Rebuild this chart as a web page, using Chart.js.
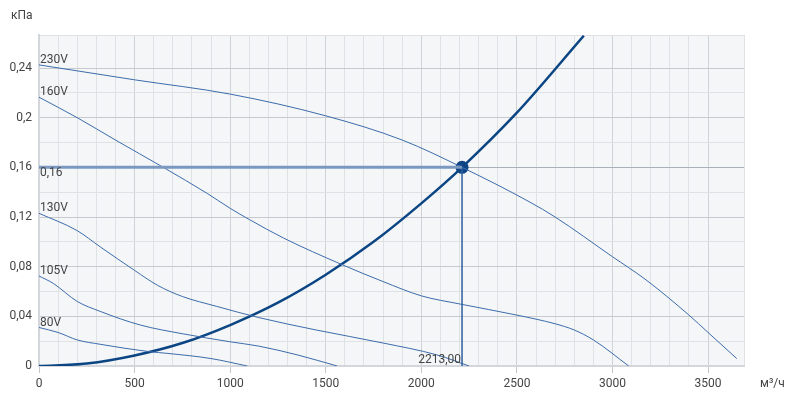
<!DOCTYPE html>
<html>
<head>
<meta charset="utf-8">
<script src="https://cdn.jsdelivr.net/npm/chart.js@4"></script>
<style>
  html, body { margin: 0; padding: 0; background: #fff; }
  #wrap { width: 798px; height: 401px; position: relative; }
</style>
</head>
<body>
<div id="wrap"><canvas id="fanChart"></canvas></div>
<script>
// fan curves at different voltages (flow m3/h, pressure kPa)
const curveNames = ['230V', '160V', '130V', '105V', '80V'];

const flow230 = [0, 500, 1000, 1500, 1900, 2213, 2568, 2700, 3000, 3170, 3400, 3500, 3650];
const pres230 = [0.2425, 0.2305, 0.219, 0.2015, 0.182, 0.16, 0.132, 0.12, 0.088, 0.07, 0.041, 0.027, 0.006];

const flow160 = [0, 200, 400, 650, 880, 1000, 1100, 1280, 1580, 1800, 2000, 2200, 2500, 2700, 2800, 2900, 3085];
const pres160 = [0.2165, 0.2, 0.182, 0.16, 0.139, 0.127, 0.118, 0.103, 0.082, 0.068, 0.0565, 0.05, 0.041, 0.034, 0.029, 0.021, 0.0];

const flow130 = [0, 200, 320, 500, 620, 750, 930, 1150, 1450, 1800, 2080, 2250];
const pres130 = [0.123, 0.109, 0.096, 0.077, 0.065, 0.056, 0.048, 0.039, 0.029, 0.0185, 0.009, 0.0];

const flow105 = [0, 75, 200, 320, 530, 750, 1000, 1150, 1350, 1560];
const pres105 = [0.0725, 0.0665, 0.052, 0.044, 0.033, 0.026, 0.0195, 0.016, 0.009, 0.0];

const flow80 = [0, 100, 200, 320, 580, 670, 900, 1090];
const pres80 = [0.031, 0.027, 0.021, 0.0175, 0.0115, 0.0102, 0.006, 0.0];

// network (system) curve
const flowSys = [0, 250, 500, 750, 1000, 1250, 1500, 1750, 2000, 2213, 2500, 2850];
const presSys = [0, 0.002, 0.0085, 0.0185, 0.033, 0.051, 0.0735, 0.1, 0.131, 0.16, 0.204, 0.266];

// operating point
const opFlow = 2213;
const opPres = 0.16;

const xMax = 3688;
const yMax = 0.2666;

function pts(xs, ys) {
    return xs.map((x, i) => ({ x: x, y: ys[i] }));
}

const thinColor = '#3d6cab';
const fanData = [[flow230, pres230], [flow160, pres160], [flow130, pres130], [flow105, pres105], [flow80, pres80]];

const datasets = [];
// operating point lines
datasets.push({
    data: [{ x: 0, y: opPres }, { x: opFlow, y: opPres }],
    borderColor: '#7b98c1', borderWidth: 3, pointRadius: 0, showLine: true
});
datasets.push({
    data: [{ x: opFlow, y: opPres }, { x: opFlow, y: 0 }],
    borderColor: '#2f5f9f', borderWidth: 1.5, pointRadius: 0, showLine: true
});
fanData.forEach(function (d) {
    datasets.push({
        data: pts(d[0], d[1]),
        borderColor: thinColor, borderWidth: 1, pointRadius: 0,
        showLine: true, cubicInterpolationMode: 'monotone'
    });
});
datasets.push({
    data: pts(flowSys, presSys),
    borderColor: '#0b4583', borderWidth: 2.5, pointRadius: 0,
    showLine: true, cubicInterpolationMode: 'monotone'
});
// marker
datasets.push({
    data: [{ x: opFlow, y: opPres }],
    pointRadius: 6.5, pointBackgroundColor: '#0e4685', pointBorderWidth: 0
});
datasets.push({
    data: [{ x: opFlow, y: opPres }],
    pointRadius: 4, pointBackgroundColor: '#0e4685',
    pointBorderColor: '#8fabd2', pointBorderWidth: 1
});

const isMult = (v, s) => Math.abs(v / s - Math.round(v / s)) < 1e-6;

const plotBg = {
    id: 'plotBg',
    beforeDraw(chart) {
        const a = chart.chartArea, c = chart.ctx;
        c.save();
        c.fillStyle = '#f4f6f8';
        c.fillRect(a.left, a.top, a.right - a.left, a.bottom - a.top);
        c.restore();
    }
};

const textLabels = {
    id: 'textLabels',
    afterDraw(chart) {
        const c = chart.ctx, xs = chart.scales.x, ys = chart.scales.y;
        c.save();
        c.font = '12px Roboto';
        c.fillStyle = '#444';
        c.textBaseline = 'alphabetic';
        c.textAlign = 'left';
        curveNames.forEach(function (n, i) {
            c.fillText(n, xs.getPixelForValue(0) + 1, ys.getPixelForValue(fanData[i][1][0]) - 2);
        });
        c.fillText('0,16', xs.getPixelForValue(0) + 1, ys.getPixelForValue(opPres) + 9);
        c.fillText('кПа', 11, 19);
        c.fillText('м³/ч', 760, 387);
        c.textAlign = 'right';
        c.fillText('2213,00', xs.getPixelForValue(opFlow) - 1, ys.getPixelForValue(0) - 3);
        c.restore();
    }
};

new Chart(document.getElementById('fanChart'), {
    type: 'scatter',
    data: { datasets: datasets },
    plugins: [plotBg, textLabels],
    options: {
        responsive: true,
        maintainAspectRatio: false,
        animation: false,
        layout: { padding: { top: 35, right: 54, left: 0, bottom: 0 } },
        plugins: { legend: { display: false }, tooltip: { enabled: false } },
        scales: {
            x: {
                type: 'linear', min: 0, max: xMax,
                afterFit(s) { s.height = 35; },
                border: { color: '#d3d6da', width: 2 },
                grid: {
                    color: ctx => (ctx.tick && isMult(ctx.tick.value, 500)) ? '#cfd2d7' : '#dfe1e4',
                    tickColor: ctx => (ctx.tick && isMult(ctx.tick.value, 500)) ? '#c3c7cd' : 'rgba(0,0,0,0)',
                    tickLength: 7
                },
                ticks: {
                    stepSize: 100, autoSkip: false, maxRotation: 0,
                    color: '#444', font: { family: 'Roboto', size: 12 }, padding: 4,
                    callback: v => isMult(v, 500) ? String(v) : ''
                }
            },
            y: {
                type: 'linear', min: 0, max: yMax,
                afterFit(s) { s.width = 39; },
                border: { color: '#d3d6da', width: 2 },
                grid: {
                    color: ctx => {
                        if (!ctx.tick) return '#dfe1e4';
                        if (isMult(ctx.tick.value, 0.16) && ctx.tick.value > 0) return '#a9b0ba';
                        return isMult(ctx.tick.value, 0.04) ? '#c6cad0' : '#dfe1e4';
                    },
                    drawTicks: false
                },
                ticks: {
                    stepSize: 0.02, autoSkip: false,
                    color: '#444', font: { family: 'Roboto', size: 12 }, padding: 7,
                    callback: v => isMult(v, 0.04) ? String(+v.toFixed(2)).replace('.', ',') : ''
                }
            }
        }
    }
});
</script>
</body>
</html>
